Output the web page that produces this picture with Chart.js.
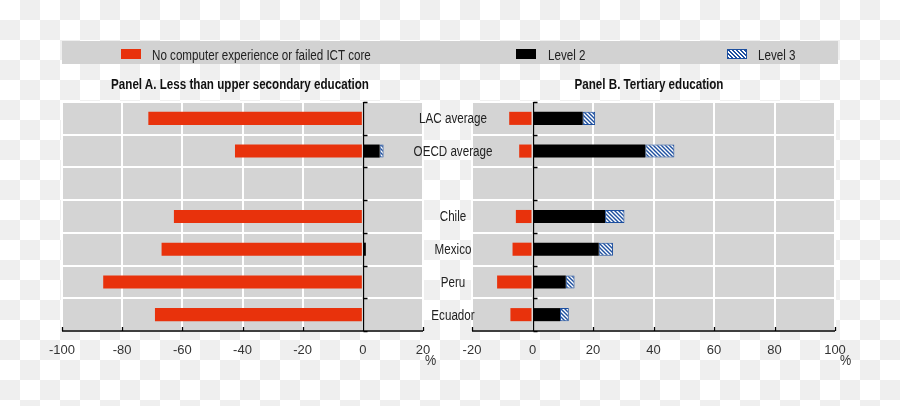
<!DOCTYPE html>
<html>
<head>
<meta charset="utf-8">
<script src="https://cdn.jsdelivr.net/npm/chart.js@4"></script>
<style>
  html, body { margin: 0; padding: 0; }
  body {
    width: 900px; height: 406px; position: relative; overflow: hidden;
    background: conic-gradient(#efefef 25%, #fff 0 50%, #efefef 0 75%, #fff 0) 0 0 / 40px 40px;
    font-family: "Liberation Sans", Arial, sans-serif;
  }
  canvas { position: absolute; left: 0; top: 0; }
  #legend { position: absolute; left: 62px; top: 41px; width: 776px; height: 23px; background: #d2d2d2; }
  .sw { position: absolute; top: 8px; width: 20px; height: 10px; box-sizing: border-box; }
  .txt { position: absolute; top: 3px; height: 23px; line-height: 23px; font-size: 14px; color: #222; white-space: nowrap;
         transform: scaleX(0.83); transform-origin: 0 0; }
  .title { position: absolute; top: 76px; font-size: 14px; font-weight: bold; color: #111; white-space: nowrap;
           transform: translateX(-50%) scaleX(0.83); }
  .pct { position: absolute; top: 352px; font-size: 14px; color: #333; transform: scaleX(0.9); transform-origin: 0 0; }
</style>
</head>
<body>
<canvas id="left" width="900" height="406"></canvas>
<canvas id="right" width="900" height="406"></canvas>
<div id="legend"></div>
<div class="title" style="left:240px">Panel A. Less than upper secondary education</div>
<div class="title" style="left:649px">Panel B. Tertiary education</div>
<div class="pct" style="left:425px">%</div>
<div class="pct" style="left:840px">%</div>
<script>
const categories = ['LAC average', 'OECD average', '', 'Chile', 'Mexico', 'Peru', 'Ecuador'];
const seriesNames = ['No computer experience or failed ICT core', 'Level 2', 'Level 3'];

// Panel A: less than upper secondary education
const panelA_noComputer = [-71.3, -42.5, null, -62.8, -66.9, -86.3, -69.1];
const panelA_level2 = [0.3, 5.6, null, 0.4, 1.0, 0.2, 0.2];
const panelA_level3 = [null, 1.3, null, null, null, null, null];

// Panel B: tertiary education
const panelB_noComputer = [-7.7, -4.4, null, -5.5, -6.6, -11.7, -7.3];
const panelB_level2 = [16.6, 37.3, null, 24.0, 21.9, 11.0, 9.1];
const panelB_level3 = [4.1, 9.6, null, 6.4, 4.7, 2.9, 2.9];

const panelA_ticks = [-100, -80, -60, -40, -20, 0, 20];
const panelB_ticks = [-20, 0, 20, 40, 60, 80, 100];

const RED = '#e8320c';
const BLUE = '#1d4f9f';
const FONT = "'Liberation Sans', Arial, sans-serif";

Chart.defaults.font.family = FONT;

function makeHatch() {
  const c = document.createElement('canvas');
  c.width = 4; c.height = 4;
  const g = c.getContext('2d');
  g.fillStyle = '#fff';
  g.fillRect(0, 0, 4, 4);
  g.strokeStyle = BLUE;
  g.lineWidth = 1.4;
  g.beginPath();
  g.moveTo(-1, -1); g.lineTo(5, 5);
  g.moveTo(-1, 3); g.lineTo(1, 5);
  g.moveTo(3, -1); g.lineTo(5, 1);
  g.stroke();
  return g.createPattern(c, 'repeat');
}
const hatch = makeHatch();

// legend
const legend = document.getElementById('legend');
const legendPos = [[59, 90], [454, 486], [665, 696]];
const swatch = [
  'background:' + RED,
  'background:#000',
  'border:1px solid ' + BLUE + ';background:repeating-linear-gradient(45deg,' + BLUE + ' 0 1.4px,#fff 1.4px 2.8px)'
];
seriesNames.forEach((name, i) => {
  const s = document.createElement('div');
  s.className = 'sw';
  s.style.cssText = 'left:' + legendPos[i][0] + 'px;' + swatch[i];
  legend.appendChild(s);
  const t = document.createElement('div');
  t.className = 'txt';
  t.style.left = legendPos[i][1] + 'px';
  t.textContent = name;
  legend.appendChild(t);
});

// grey plot background
const plotBg = {
  id: 'plotBg',
  beforeDraw(chart) {
    const a = chart.chartArea, ctx = chart.ctx;
    ctx.save();
    ctx.fillStyle = '#d4d4d4';
    ctx.fillRect(a.left, a.top, a.right - a.left, a.bottom - a.top);
    ctx.restore();
  }
};

// black zero axis and bottom axis with inward ticks
const axisLines = {
  id: 'axisLines',
  afterDatasetsDraw(chart) {
    const a = chart.chartArea, ctx = chart.ctx;
    const x = chart.scales.x, y = chart.scales.y;
    const x0 = Math.round(x.getPixelForValue(0)) + 0.5;
    ctx.save();
    ctx.strokeStyle = '#000';
    ctx.lineWidth = 1.3;
    ctx.beginPath();
    ctx.moveTo(x0, a.top);
    ctx.lineTo(x0, a.bottom);
    for (let i = 0; i <= categories.length; i++) {
      const py = Math.round(y.getPixelForValue(i - 0.5)) + 0.5;
      ctx.moveTo(x0, py);
      ctx.lineTo(x0 + 4, py);
    }
    ctx.moveTo(a.left, a.bottom);
    ctx.lineTo(a.right, a.bottom);
    x.ticks.forEach(t => {
      const px = Math.round(x.getPixelForValue(t.value)) + 0.5;
      ctx.moveTo(px, a.bottom);
      ctx.lineTo(px, a.bottom - 4);
    });
    ctx.stroke();
    ctx.restore();
  }
};

// category names between the two panels
const categoryLabels = {
  id: 'categoryLabels',
  afterDraw(chart) {
    const ctx = chart.ctx, y = chart.scales.y;
    ctx.save();
    ctx.font = '14px ' + FONT;
    ctx.fillStyle = '#222';
    ctx.textAlign = 'center';
    ctx.textBaseline = 'middle';
    categories.forEach((c, i) => {
      ctx.save();
      ctx.translate(453, y.getPixelForValue(i) + 1);
      ctx.scale(0.83, 1);
      ctx.fillText(c, 0, 0);
      ctx.restore();
    });
    ctx.restore();
  }
};

function panel(id, series, ticks, area, extra) {
  return new Chart(document.getElementById(id), {
    type: 'bar',
    data: {
      labels: categories,
      datasets: [
        { label: seriesNames[0], data: series[0], backgroundColor: RED, stack: 's' },
        { label: seriesNames[1], data: series[1], backgroundColor: '#000', stack: 's' },
        { label: seriesNames[2], data: series[2], backgroundColor: hatch, borderColor: BLUE, borderWidth: 1, borderSkipped: false, stack: 's' }
      ]
    },
    options: {
      indexAxis: 'y',
      responsive: false,
      animation: false,
      layout: { padding: { left: area[0], right: 900 - area[1], top: 102, bottom: 406 - 331 - 30 } },
      datasets: { bar: { categoryPercentage: 1, barPercentage: 0.4 } },
      plugins: { legend: { display: false }, tooltip: { enabled: false } },
      scales: {
        x: {
          type: 'linear',
          min: ticks[0],
          max: ticks[ticks.length - 1],
          stacked: true,
          afterFit: s => { s.height = 30; },
          afterBuildTicks: s => { s.ticks = ticks.map(v => ({ value: v })); },
          grid: { color: '#fff', lineWidth: 2, drawTicks: false },
          border: { display: false },
          ticks: { color: '#333', font: { size: 13 }, padding: 12, maxRotation: 0, autoSkip: false }
        },
        y: {
          stacked: true,
          afterFit: s => { s.width = 0; },
          grid: { color: '#fff', lineWidth: 2, drawTicks: false },
          border: { display: false },
          ticks: { display: false }
        }
      }
    },
    plugins: [plotBg, axisLines].concat(extra)
  });
}

panel('left', [panelA_noComputer, panelA_level2, panelA_level3], panelA_ticks, [62, 423], []);
panel('right', [panelB_noComputer, panelB_level2, panelB_level3], panelB_ticks, [472, 835], [categoryLabels]);
</script>
</body>
</html>
